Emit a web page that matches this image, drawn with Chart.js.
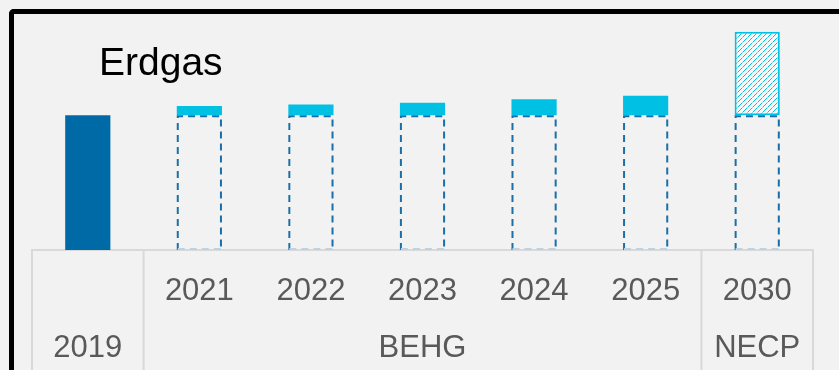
<!DOCTYPE html>
<html>
<head>
<meta charset="utf-8">
<script src="https://cdn.jsdelivr.net/npm/chart.js@4"></script>
<style>
  html, body { margin: 0; padding: 0; background: #f2f2f2; overflow: hidden; }
  body { width: 839px; height: 370px; position: relative; }
  #frame { position: absolute; left: 9px; top: 9px; width: 1000px; height: 1000px;
           border-left: 5px solid #000; border-top: 5px solid #000; border-top-left-radius: 5px; }
  #box { position: absolute; left: 0; top: 0; width: 839px; height: 390px; }
  #title { position: absolute; left: 99px; top: 42px; font: 39px "Liberation Sans", Arial, sans-serif;
           line-height: 39px; color: #000; }
</style>
</head>
<body>
<div id="frame"></div>
<div id="box"><canvas id="chart"></canvas></div>
<div id="title">Erdgas</div>
<script>
// Jahre und Gruppen der x-Achse
var years = ['2019', '2021', '2022', '2023', '2024', '2025', '2030'];
var yearTicks = ['', '2021', '2022', '2023', '2024', '2025', '2030'];
var groups = ['2019', 'BEHG', 'BEHG', 'BEHG', 'BEHG', 'BEHG', 'NECP'];

// Werte (Index, 2019 = 100)
var baseValues = [100, 100, 100, 100, 100, 100, 100];
var increaseValues = [0, 6.9, 8.0, 9.3, 11.9, 14.5, 62];

var DARK = '#006aa6';
var CYAN = '#00c0e3';
var GRIDC = '#d9d9d9';

// zweite Zeile: Gruppenname unter der Mitte jeder Gruppe
var groupLine = years.map(function () { return ''; });
var start = 0;
for (var i = 1; i <= groups.length; i++) {
  if (i === groups.length || groups[i] !== groups[start]) {
    groupLine[Math.floor((start + i - 1) / 2)] = groups[start];
    start = i;
  }
}
var labels = years.map(function (y, i) { return [yearTicks[i], groupLine[i]]; });

function hatch(color) {
  var c = document.createElement('canvas');
  c.width = 5; c.height = 5;
  var g = c.getContext('2d');
  g.fillStyle = '#f7f7f7';
  g.fillRect(0, 0, 5, 5);
  g.fillStyle = color;
  g.fillRect(0, 4, 1, 1);
  g.fillRect(1, 3, 1, 1);
  g.fillRect(3, 1, 1, 1);
  g.fillRect(4, 0, 1, 1);
  g.globalAlpha = 0.5;
  g.fillRect(2, 2, 1, 1);
  return g.createPattern(c, 'repeat');
}

// gestrichelte Umrisse der Basisbalken
var dashedOutline = {
  id: 'dashedOutline',
  afterDatasetsDraw: function (chart) {
    var meta = chart.getDatasetMeta(0);
    var ctx = chart.ctx;
    ctx.save();
    ctx.lineWidth = 2;
    ctx.setLineDash([7, 5]);
    meta.data.forEach(function (bar, i) {
      if (i === 0) return;
      var p = bar.getProps(['x', 'y', 'base', 'width'], true);
      var l = p.x - p.width / 2 + 1, r = p.x + p.width / 2 - 1;
      ctx.strokeStyle = '#1b6fa8';
      ctx.beginPath();
      ctx.moveTo(l, p.base); ctx.lineTo(l, p.y + 1); ctx.lineTo(r, p.y + 1); ctx.lineTo(r, p.base);
      ctx.stroke();
      ctx.strokeStyle = '#bdd3e4';
      ctx.beginPath();
      ctx.moveTo(l, p.base - 1); ctx.lineTo(r, p.base - 1);
      ctx.stroke();
    });
    ctx.restore();
  }
};

// Trennlinien zwischen den Gruppen unter der Achse
var groupLines = {
  id: 'groupLines',
  afterDraw: function (chart) {
    var x = chart.scales.x;
    var ctx = chart.ctx;
    var bounds = [chart.chartArea.left];
    for (var i = 1; i < groups.length; i++) {
      if (groups[i] !== groups[i - 1]) {
        bounds.push((x.getPixelForValue(i - 1) + x.getPixelForValue(i)) / 2);
      }
    }
    bounds.push(chart.chartArea.right);
    ctx.save();
    ctx.strokeStyle = GRIDC;
    ctx.lineWidth = 2;
    bounds.forEach(function (bx) {
      ctx.beginPath();
      ctx.moveTo(bx, chart.chartArea.bottom);
      ctx.lineTo(bx, chart.height);
      ctx.stroke();
    });
    ctx.restore();
  }
};

var canvas = document.getElementById('chart');
var pattern = hatch(CYAN);

new Chart(canvas.getContext('2d'), {
  type: 'bar',
  data: {
    labels: labels,
    datasets: [{
      label: 'Basis',
      data: baseValues,
      backgroundColor: function (c) { return c.dataIndex === 0 ? DARK : 'rgba(0,0,0,0)'; },
      borderWidth: 0
    }, {
      label: 'Anstieg',
      data: increaseValues,
      backgroundColor: function (c) { return c.dataIndex === years.length - 1 ? pattern : CYAN; },
      borderColor: CYAN,
      borderWidth: function (c) { return c.dataIndex === years.length - 1 ? 2 : 0; },
      borderSkipped: false
    }]
  },
  options: {
    responsive: true,
    maintainAspectRatio: false,
    animation: false,
    layout: { padding: { left: 32, right: 26, top: 21, bottom: 0 } },
    plugins: { legend: { display: false }, tooltip: { enabled: false }, title: { display: false } },
    datasets: { bar: { categoryPercentage: 1, barPercentage: 0.405 } },
    scales: {
      x: {
        stacked: true,
        grid: { display: false, drawTicks: false },
        border: { display: true, color: GRIDC, width: 2 },
        ticks: {
          autoSkip: false,
          maxRotation: 0,
          padding: 13,
          color: '#595959',
          font: { family: '"Liberation Sans", Arial, sans-serif', size: 31, lineHeight: 1.84 }
        }
      },
      y: {
        stacked: true,
        display: false,
        min: 0,
        max: 170
      }
    }
  },
  plugins: [dashedOutline, groupLines]
});
</script>
</body>
</html>
